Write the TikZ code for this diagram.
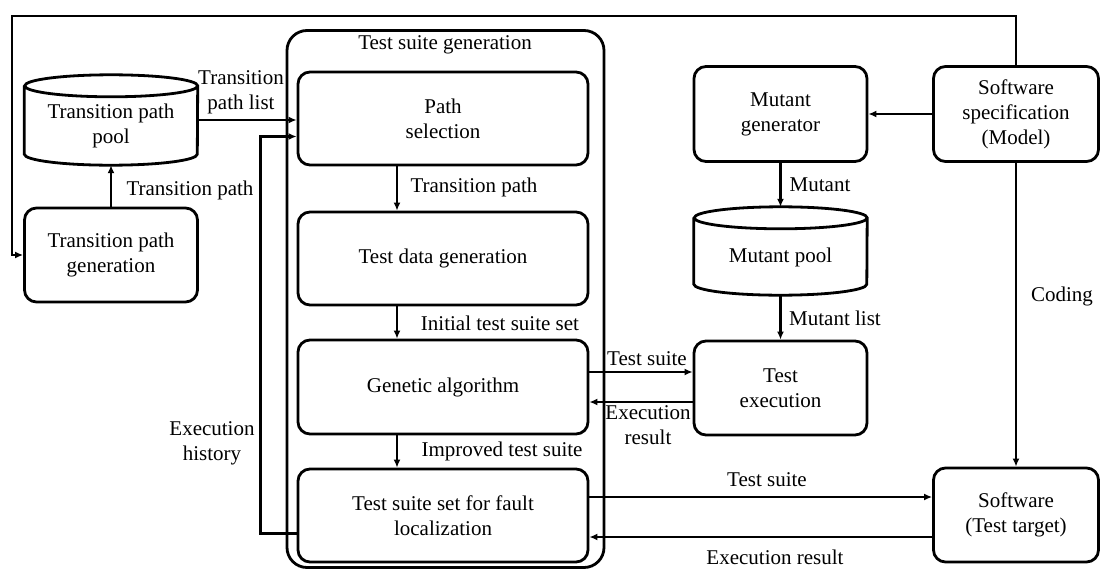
\documentclass[tikz,border=0pt]{standalone}
\usepackage{fontspec}
\setmainfont{Liberation Serif}
\usetikzlibrary{arrows.meta}
\begin{document}
\begin{tikzpicture}[x=1pt,y=1pt,
  every node/.style={font=\fontsize{21}{25}\selectfont},
  box/.style={draw, line width=2.8pt, rounded corners=12pt, align=center, inner sep=0pt},
  drum/.style={align=center, inner sep=0pt},
  lbl/.style={align=center, inner sep=0pt},
  flow/.style={line width=2.6pt, -{Latex[length=8pt,width=7pt]}},
  line/.style={line width=2.8pt}
]
\useasboundingbox (0,0) rectangle (1100,-570);

% Test suite generation group
\node[box, rounded corners=20pt, minimum width=317pt, minimum height=537pt] (group) at (445.5,-299) {};
\node[lbl] (title) at (445,-45) {Test suite generation};

% Steps inside the group
\node[box, minimum width=290pt, minimum height=93pt] (ps)  at (443,-118.5) {Path\\selection};
\node[box, minimum width=290pt, minimum height=93pt] (tdg) at (443,-258.5) {Test data generation};
\node[box, minimum width=290pt, minimum height=94pt] (ga)  at (443,-387) {Genetic algorithm};
\node[box, minimum width=290pt, minimum height=93pt] (fl)  at (443,-515.5) {Test suite set for fault\\localization};

% Left column: transition path store and its generator
\node[drum, minimum width=173pt, minimum height=90pt] (pool) at (111,-120) {};
\node[lbl] (pooltxt) at (111,-126) {Transition path\\pool};
\draw[line] ([yshift=-11pt]pool.north west) -- ([yshift=11pt]pool.south west)
  arc[start angle=180, end angle=360, x radius=86.5pt, y radius=11pt]
  -- ([yshift=-11pt]pool.north east)
  arc[start angle=0, end angle=360, x radius=86.5pt, y radius=11pt];
\node[box, minimum width=173pt, minimum height=94pt] (gen) at (111,-255) {Transition path\\generation};

% Right part: mutation side and software under test
\node[box, minimum width=173pt, minimum height=95pt] (mg) at (780.5,-114) {Mutant\\generator};
\node[box, minimum width=165pt, minimum height=95pt] (spec) at (1016,-114) {Software\\specification\\(Model)};
\node[drum, minimum width=173pt, minimum height=88pt] (mpool) at (780.5,-251) {};
\node[lbl] (mpooltxt) at (780.5,-257) {Mutant pool};
\draw[line] ([yshift=-11pt]mpool.north west) -- ([yshift=11pt]mpool.south west)
  arc[start angle=180, end angle=360, x radius=86.5pt, y radius=11pt]
  -- ([yshift=-11pt]mpool.north east)
  arc[start angle=0, end angle=360, x radius=86.5pt, y radius=11pt];
\node[box, minimum width=173pt, minimum height=94pt] (te) at (780.5,-388) {Test\\execution};
\node[box, minimum width=165pt, minimum height=94pt] (sw) at (1016,-515) {Software\\(Test target)};

% Connectors
\coordinate (topleft) at (12,-16);
\draw[flow] (spec.north) |- (topleft) |- (gen.west);
\draw[flow] (gen.north) -- (pool.south);
\draw[flow] (pool.east) -- (ps.west |- pool.east);
\draw[flow] ([yshift=-18pt]fl.west) -- ++(-36,0) |- ([yshift=-18pt]ps.west);

\draw[flow] (ps.south -| 397,0) -- (tdg.north -| 397,0);
\draw[flow] (tdg.south -| 397,0) -- (ga.north -| 397,0);
\draw[flow] (ga.south -| 397,0) -- (fl.north -| 397,0);

\draw[flow] (spec.west) -- (mg.east);
\draw[flow] (mg.south) -- (mpool.north);
\draw[flow] (mpool.south) -- (te.north);
\draw[flow] (ga.east |- 0,-372) -- (te.west |- 0,-372);
\draw[flow] (te.west |- 0,-402) -- (ga.east |- 0,-402);
\draw[flow] (spec.south) -- (sw.north);
\draw[flow] (fl.east |- 0,-497) -- (sw.west |- 0,-497);
\draw[flow] (sw.west |- 0,-537) -- (fl.east |- 0,-537);

% Connector labels
\node[lbl] (l1) at (241,-92) {Transition\\path list};
\node[lbl] (l2) at (190,-190) {Transition path};
\node[lbl] (l3) at (474,-187) {Transition path};
\node[lbl] (l4) at (500,-323) {Initial test suite set};
\node[lbl] (l5) at (502,-451) {Improved test suite};
\node[lbl] (l6) at (212,-443) {Execution\\history};
\node[lbl] (l7) at (820,-185) {Mutant};
\node[lbl] (l8) at (835,-318) {Mutant list};
\node[lbl] (l9) at (647,-359) {Test suite};
\node[lbl] (l10) at (648,-425) {Execution\\result};
\node[lbl] (l11) at (1062,-296) {Coding};
\node[lbl] (l12) at (767,-480) {Test suite};
\node[lbl] (l13) at (775,-557) {Execution result};
\end{tikzpicture}
\end{document}
